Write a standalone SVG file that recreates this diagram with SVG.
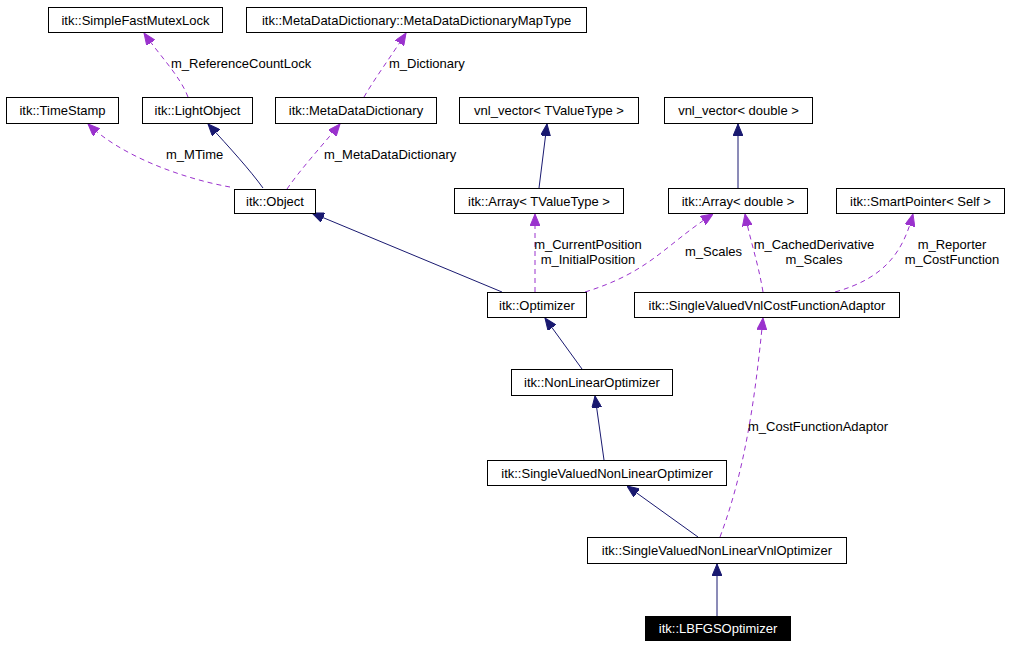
<svg xmlns="http://www.w3.org/2000/svg" width="1023" height="645" viewBox="0 0 1023 645">
<style>
.box{fill:#fff;stroke:#000;stroke-width:1}
.t{font-family:"Liberation Sans",Arial,sans-serif;font-size:13px;fill:#000}
.c{text-anchor:middle}
.inh{fill:none;stroke:#191970;stroke-width:1}
.use{fill:none;stroke:#9a32cd;stroke-width:1;stroke-dasharray:5,4}
</style>
<defs>
<marker id="an" viewBox="0 0 12 10" refX="12" refY="5" markerWidth="12" markerHeight="10" markerUnits="userSpaceOnUse" orient="auto"><path d="M0,0 L12,5 L0,10 z" fill="#191970" stroke="#191970" stroke-dasharray="none"/></marker>
<marker id="ap" viewBox="0 0 12 10" refX="12" refY="5" markerWidth="12" markerHeight="10" markerUnits="userSpaceOnUse" orient="auto"><path d="M0,0 L12,5 L0,10 z" fill="#9a32cd" stroke="#9a32cd" stroke-dasharray="none"/></marker>
</defs>
<rect width="1023" height="645" fill="#fff"/>
<g id="connectors">
<path class="use" marker-end="url(#ap)" d="M188,97 C180,76 160,56 144,33"/>
<text class="t" x="171" y="68">m_ReferenceCountLock</text>
<path class="use" marker-end="url(#ap)" d="M364,97 C375,78 392,55 406,33"/>
<text class="t" x="389" y="68">m_Dictionary</text>
<path class="use" marker-end="url(#ap)" d="M230,187 C180,178 120,155 88,124"/>
<text class="t" x="166" y="159">m_MTime</text>
<path class="inh" marker-end="url(#an)" d="M263,188 C250,170 230,148 208,124"/>
<path class="use" marker-end="url(#ap)" d="M287,189 C300,170 320,148 340,124"/>
<text class="t" x="324" y="159">m_MetaDataDictionary</text>
<path class="inh" marker-end="url(#an)" d="M539,188 L547,124"/>
<path class="inh" marker-end="url(#an)" d="M502,292 L312,213"/>
<path class="use" marker-end="url(#ap)" d="M535,292 L535,214"/>
<text class="t c" x="588" y="249">m_CurrentPosition</text>
<text class="t c" x="588" y="264">m_InitialPosition</text>
<path class="use" marker-end="url(#ap)" d="M585,292 C650,272 665,245 713,214"/>
<text class="t" x="685" y="256">m_Scales</text>
<path class="inh" marker-end="url(#an)" d="M738,188 L738,124"/>
<path class="use" marker-end="url(#ap)" d="M763,292 C758,262 750,240 745,214"/>
<text class="t c" x="814" y="249">m_CachedDerivative</text>
<text class="t c" x="814" y="264">m_Scales</text>
<path class="use" marker-end="url(#ap)" d="M835,292 C885,278 903,252 913,214"/>
<text class="t c" x="952" y="249">m_Reporter</text>
<text class="t c" x="952" y="264">m_CostFunction</text>
<path class="inh" marker-end="url(#an)" d="M582,369 L545,318"/>
<path class="inh" marker-end="url(#an)" d="M604,460 L595,396"/>
<path class="inh" marker-end="url(#an)" d="M698,537 L627,486"/>
<path class="use" marker-end="url(#ap)" d="M720,537 C745,470 755,400 763,318"/>
<text class="t" x="748" y="431">m_CostFunctionAdaptor</text>
<path class="inh" marker-end="url(#an)" d="M717,616 L717,564"/>
</g>
<g id="SimpleFastMutexLock"><rect class="box" x="48.5" y="7.5" width="174" height="25"/><text class="t c" x="135.5" y="24.5">itk::SimpleFastMutexLock</text></g>
<g id="MetaDataDictionaryMapType"><rect class="box" x="246.5" y="7.5" width="340" height="25"/><text class="t c" x="416.5" y="24.5">itk::MetaDataDictionary::MetaDataDictionaryMapType</text></g>
<g id="TimeStamp"><rect class="box" x="6.5" y="97.5" width="112" height="26"/><text class="t c" x="62.5" y="115">itk::TimeStamp</text></g>
<g id="LightObject"><rect class="box" x="142.5" y="97.5" width="110" height="26"/><text class="t c" x="197.5" y="115">itk::LightObject</text></g>
<g id="MetaDataDictionary"><rect class="box" x="275.5" y="97.5" width="161" height="26"/><text class="t c" x="356" y="115">itk::MetaDataDictionary</text></g>
<g id="vnlVectorTValueType"><rect class="box" x="459.5" y="97.5" width="179" height="26"/><text class="t c" x="549" y="115">vnl_vector&lt; TValueType &gt;</text></g>
<g id="vnlVectorDouble"><rect class="box" x="664.5" y="97.5" width="148" height="26"/><text class="t c" x="738.5" y="115">vnl_vector&lt; double &gt;</text></g>
<g id="Object"><rect class="box" x="234.5" y="189.5" width="81" height="24"/><text class="t c" x="275" y="206">itk::Object</text></g>
<g id="ArrayTValueType"><rect class="box" x="454.5" y="188.5" width="169" height="25"/><text class="t c" x="539" y="205.5">itk::Array&lt; TValueType &gt;</text></g>
<g id="ArrayDouble"><rect class="box" x="668.5" y="188.5" width="139" height="25"/><text class="t c" x="738" y="205.5">itk::Array&lt; double &gt;</text></g>
<g id="SmartPointerSelf"><rect class="box" x="836.5" y="188.5" width="168" height="25"/><text class="t c" x="920.5" y="205.5">itk::SmartPointer&lt; Self &gt;</text></g>
<g id="Optimizer"><rect class="box" x="487.5" y="292.5" width="99" height="25"/><text class="t c" x="537" y="309.5">itk::Optimizer</text></g>
<g id="SingleValuedVnlCostFunctionAdaptor"><rect class="box" x="634.5" y="292.5" width="265" height="25"/><text class="t c" x="767" y="309.5">itk::SingleValuedVnlCostFunctionAdaptor</text></g>
<g id="NonLinearOptimizer"><rect class="box" x="511.5" y="369.5" width="161" height="26"/><text class="t c" x="592" y="387">itk::NonLinearOptimizer</text></g>
<g id="SingleValuedNonLinearOptimizer"><rect class="box" x="487.5" y="460.5" width="239" height="25"/><text class="t c" x="607" y="477.5">itk::SingleValuedNonLinearOptimizer</text></g>
<g id="SingleValuedNonLinearVnlOptimizer"><rect class="box" x="587.5" y="537.5" width="259" height="26"/><text class="t c" x="717" y="555">itk::SingleValuedNonLinearVnlOptimizer</text></g>
<g id="LBFGSOptimizer"><rect x="645.5" y="616.5" width="145" height="24" fill="#000" stroke="#000"/><text class="t c" x="718" y="633" fill="#fff" style="fill:#fff">itk::LBFGSOptimizer</text></g>
</svg>
